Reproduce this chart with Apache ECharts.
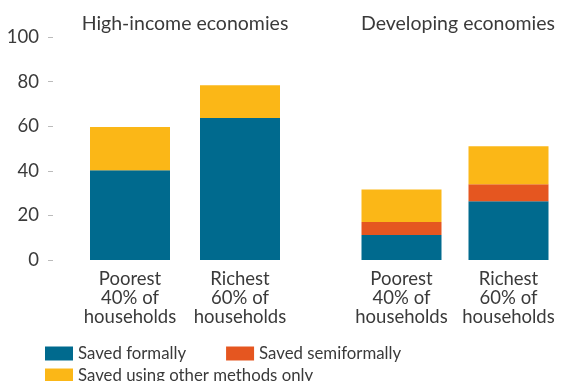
<!DOCTYPE html>
<html>
<head>
<meta charset="utf-8">
<script src="https://cdn.jsdelivr.net/npm/echarts@6/dist/echarts.min.js"></script>
<style>
  html, body { margin: 0; padding: 0; background: #fff; }
  #chart { width: 562px; height: 381px; }
</style>
</head>
<body>
<div id="chart"></div>
<script>
// 数据
const panelTitles = ['High-income economies', 'Developing economies']
const categories = ['Poorest\n40% of\nhouseholds', 'Richest\n60% of\nhouseholds']
const seriesNames = ['Saved formally', 'Saved semiformally', 'Saved using other methods only']

const highFormal = [40.3, 63.7]
const highSemi = [0, 0]
const highOther = [19.3, 14.7]

const devFormal = [11.2, 26.4]
const devSemi = [5.8, 7.6]
const devOther = [14.6, 17.0]

const yTicks = [0, 20, 40, 60, 80, 100]

const colors = ['#006A8E', '#E55620', '#FBB717']
const textColor = '#3a3a3a'
const fontFamily = 'Lato, "Open Sans", sans-serif'

const chart = echarts.init(document.getElementById('chart'))

const catAxis = (gridIndex) => ({
  type: 'category',
  gridIndex,
  data: categories,
  axisLine: { show: false },
  axisTick: { show: false },
  axisLabel: {
    color: textColor,
    fontFamily,
    fontSize: 18.5,
    lineHeight: 19,
    margin: 10,
    interval: 0
  }
})

const barSeries = (name, data, idx, color) => ({
  name,
  type: 'bar',
  stack: 'panel' + idx,
  xAxisIndex: idx,
  yAxisIndex: idx,
  barWidth: 80,
  itemStyle: { color },
  emphasis: { disabled: true },
  data
})

const titleStyle = { color: textColor, fontFamily, fontSize: 19.5, fontWeight: 'normal' }
const legendText = { color: textColor, fontFamily, fontSize: 16.8 }

const option = {
  animation: false,
  title: [
    { text: panelTitles[0], left: 180, top: 9, textAlign: 'center', textStyle: titleStyle },
    { text: panelTitles[1], left: 453, top: 9, textAlign: 'center', textStyle: titleStyle }
  ],
  legend: [
    {
      data: [seriesNames[0], seriesNames[1]],
      left: 45,
      top: 345,
      padding: 0,
      itemWidth: 28,
      itemHeight: 14,
      itemGap: 40,
      icon: 'rect',
      textStyle: legendText
    },
    {
      data: [seriesNames[2]],
      left: 45,
      top: 367,
      padding: 0,
      itemWidth: 28,
      itemHeight: 14,
      icon: 'rect',
      textStyle: legendText
    }
  ],
  grid: [
    { left: 75, top: 37, width: 220, height: 223 },
    { left: 348, top: 37, width: 220, height: 223 }
  ],
  xAxis: [catAxis(0), catAxis(1)],
  yAxis: [
    {
      type: 'value',
      gridIndex: 0,
      min: yTicks[0],
      max: yTicks[yTicks.length - 1],
      interval: 20,
      offset: 22,
      axisLine: { show: false },
      axisTick: { show: true, length: 5, lineStyle: { color: '#bbbbbb' } },
      splitLine: { show: false },
      axisLabel: { color: textColor, fontFamily, fontSize: 18.5, margin: 14 }
    },
    {
      type: 'value',
      gridIndex: 1,
      min: 0,
      max: 100,
      show: false,
      splitLine: { show: false }
    }
  ],
  series: [
    barSeries(seriesNames[0], highFormal, 0, colors[0]),
    barSeries(seriesNames[1], highSemi, 0, colors[1]),
    barSeries(seriesNames[2], highOther, 0, colors[2]),
    barSeries(seriesNames[0], devFormal, 1, colors[0]),
    barSeries(seriesNames[1], devSemi, 1, colors[1]),
    barSeries(seriesNames[2], devOther, 1, colors[2])
  ]
}

chart.setOption(option)
</script>
</body>
</html>
